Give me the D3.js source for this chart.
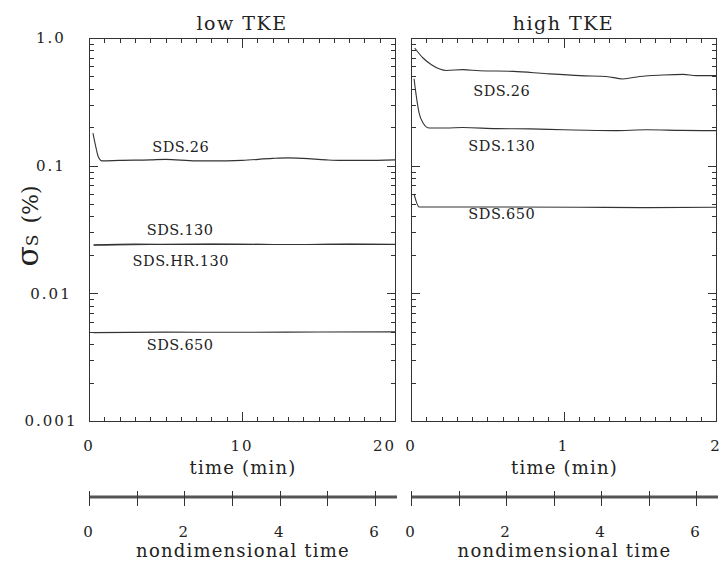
<!DOCTYPE html>
<html><head><meta charset="utf-8">
<script src="https://cdn.jsdelivr.net/npm/d3@7"></script>
<style>
body{margin:0;background:#fff}
svg{display:block}
text{font-family:"DejaVu Serif","Liberation Serif",serif;fill:#222}
</style>
</head><body>
<svg id="c" width="721" height="561"></svg>
<script>
// ---------------- data ----------------
const panelTitles = ["low TKE", "high TKE"];
const timeMax = [20, 2];
const timeMajorTicks = [[0, 10, 20], [0, 1, 2]];
const timeTickLabels = [["0", "10", "20"], ["0", "1", "2"]];
const timeMinorTicks = [d3.range(0, 21, 1), d3.range(0, 21, 1).map(d => d / 10)];
const nondimMax = 6.42;
const nondimTicks = [0, 1, 2, 3, 4, 5, 6];
const nondimLabels = [0, 2, 4, 6];
const yDecades = [0.001, 0.01, 0.1, 1];
const yDecadeLabels = ["0.001", "0.01", "0.1", "1.0"];

// low TKE (time in minutes, sigma_s in %)
const low_SDS26 = [[0.26,0.180],[0.42,0.145],[0.6,0.118],[0.85,0.109],[2,0.110],[4,0.111],[5,0.112],[7,0.109],[8,0.109],[10,0.110],[12,0.114],[13,0.115],[14,0.114],[15.5,0.111],[16.5,0.110],[18,0.110],[20,0.111]];
const low_SDS130 = [[0.3,0.0240],[3,0.0243],[6,0.0242],[10,0.0242],[14,0.0241],[17,0.0243],[20,0.0242]];
const low_SDSHR130 = [[0.3,0.0238],[4,0.0241],[8,0.0243],[12,0.0241],[16,0.0242],[20,0.0241]];
const low_SDS650 = [[0.3,0.00492],[5,0.00497],[10,0.00495],[15,0.00498],[20,0.00499]];

// high TKE
const high_SDS26 = [[0.024,0.835],[0.079,0.697],[0.134,0.618],[0.188,0.572],[0.232,0.557],[0.34,0.565],[0.45,0.554],[0.67,0.548],[0.89,0.525],[1.11,0.507],[1.28,0.500],[1.39,0.478],[1.50,0.500],[1.65,0.513],[1.785,0.519],[1.87,0.507],[2.0,0.507]];
const high_SDS130 = [[0.02,0.480],[0.035,0.349],[0.053,0.259],[0.079,0.216],[0.12,0.197],[0.23,0.197],[0.34,0.199],[0.56,0.195],[0.78,0.194],[1.0,0.191],[1.33,0.188],[1.55,0.191],[1.77,0.189],[2.0,0.188]];
const high_SDS650 = [[0.02,0.0600],[0.053,0.0475],[0.45,0.0475],[1.11,0.0473],[1.55,0.0469],[2.0,0.0472]];

const seriesNames = [["SDS.26","SDS.130","SDS.HR.130","SDS.650"],["SDS.26","SDS.130","SDS.650"]];
const seriesData = [[low_SDS26, low_SDS130, low_SDSHR130, low_SDS650],[high_SDS26, high_SDS130, high_SDS650]];
const labelTime = [[6, 5.96, 6, 5.96], [0.595, 0.595, 0.595]];
const labelDy = [[-8.5, -9.3, 21.4, 17.7], [25, 22, 12]];

// ---------------- layout ----------------
const panelX = [[89, 395], [411, 716]];
const plotTop = 38, plotBottom = 421;
const svg = d3.select("#c");
const ink = "#333";

const y = d3.scaleLog().domain([0.001, 1]).range([plotBottom, plotTop]);
const minorY = [];
yDecades.slice(0, 3).forEach(d => { for (let k = 2; k <= 9; k++) minorY.push(d * k); });

const snap = v => Math.round(v) + 0.5;

// tick marks drawn as path segments built from the scales
function yTickPath(xEdge, dir, vals, len) {
  return vals.map(d => `M${xEdge},${snap(y(d))}h${dir * len}`).join("");
}
function xTickPath(scale, yEdge, dir, vals, len) {
  return vals.map(d => `M${snap(scale(d))},${yEdge}v${dir * len}`).join("");
}

const defs = svg.append("defs");

panelX.forEach(([x0, x1], i) => {
  const x = d3.scaleLinear().domain([0, timeMax[i]]).range([x0, x1]);

  defs.append("clipPath").attr("id", "clip" + i).append("rect")
    .attr("x", x0).attr("y", plotTop).attr("width", x1 - x0).attr("height", plotBottom - plotTop);

  const minorX = timeMinorTicks[i].filter(t => !timeMajorTicks[i].some(m => Math.abs(m - t) < 1e-9));
  const tickD =
    yTickPath(x0, 1, minorY, 5) + yTickPath(x0, 1, yDecades, 9) +
    yTickPath(x1 + 1, -1, minorY, 5) + yTickPath(x1 + 1, -1, yDecades, 9) +
    xTickPath(x, plotBottom + 1, -1, minorX, 5) + xTickPath(x, plotBottom + 1, -1, timeMajorTicks[i], 10) +
    xTickPath(x, plotTop, 1, minorX, 5) + xTickPath(x, plotTop, 1, timeMajorTicks[i], 10);
  svg.append("path").attr("d", tickD).attr("fill", "none")
    .attr("stroke", ink).attr("stroke-width", 1);

  // frame
  svg.append("rect").attr("x", x0 + 0.5).attr("y", plotTop + 0.5)
    .attr("width", x1 - x0).attr("height", plotBottom - plotTop)
    .attr("fill", "none").attr("stroke", ink).attr("stroke-width", 1);

  // title
  svg.append("text").attr("x", (x0 + x1) / 2).attr("y", 30)
    .attr("text-anchor", "middle").attr("font-size", 19).attr("letter-spacing", 1.5)
    .text(panelTitles[i]);

  // time tick labels
  timeMajorTicks[i].forEach((t, k) => {
    let anchor = "middle", xp = x(t);
    if (i === 0 && k === 2) { anchor = "end"; xp = x1 + 1; }
    svg.append("text").attr("x", xp).attr("y", 450.5)
      .attr("text-anchor", anchor).attr("font-size", 15).attr("letter-spacing", 2)
      .text(timeTickLabels[i][k]);
  });
  svg.append("text").attr("x", (x0 + x1) / 2 + 1).attr("y", 474)
    .attr("text-anchor", "middle").attr("font-size", 18).attr("letter-spacing", 1.2)
    .text("time (min)");

  // curves
  const line = d3.line().x(d => x(d[0])).y(d => y(d[1])).curve(d3.curveMonotoneX);
  const cg = svg.append("g").attr("clip-path", `url(#clip${i})`);
  const bis = d3.bisector(d => d[0]).left;
  seriesData[i].forEach((data, s) => {
    cg.append("path").datum(data).attr("d", line)
      .attr("fill", "none").attr("stroke", "#333").attr("stroke-width", 1.1);
    const t = labelTime[i][s];
    const j = Math.max(1, Math.min(data.length - 1, bis(data, t)));
    const a = data[j - 1], b = data[j];
    const v = a[1] + (b[1] - a[1]) * (t - a[0]) / (b[0] - a[0]);
    svg.append("text").attr("x", x(t)).attr("y", y(v) + labelDy[i][s])
      .attr("text-anchor", "middle").attr("font-size", 14.5).attr("letter-spacing", 0.5)
      .text(seriesNames[i][s]);
  });

  // nondimensional axis
  const n = d3.scaleLinear().domain([0, nondimMax]).range([x0, x1]);
  svg.append("path").attr("d", `M${x0},497H${x1 + 2}`)
    .attr("stroke", "#555").attr("stroke-width", 3).attr("fill", "none");
  svg.append("path").attr("d", xTickPath(n, 491, 1, nondimTicks, 15))
    .attr("stroke", ink).attr("stroke-width", 1).attr("fill", "none");
  nondimLabels.forEach(v => {
    svg.append("text").attr("x", n(v)).attr("y", 536.5)
      .attr("text-anchor", "middle").attr("font-size", 15).attr("letter-spacing", 2)
      .text(v);
  });
  svg.append("text").attr("x", (x0 + x1) / 2 + 1).attr("y", 557)
    .attr("text-anchor", "middle").attr("font-size", 18).attr("letter-spacing", 1.2)
    .text("nondimensional time");
});

// y tick labels
yDecades.forEach((d, k) => {
  svg.append("text").attr("x", 51).attr("y", y(d)).attr("dy", "0.36em")
    .attr("text-anchor", "middle").attr("font-size", 15).attr("letter-spacing", 2)
    .text(yDecadeLabels[k]);
});

// y axis title
const yt = svg.append("text").attr("transform", "translate(38,226) rotate(-90)")
  .attr("text-anchor", "middle");
yt.append("tspan").attr("font-size", 30).text("σ");
yt.append("tspan").attr("font-size", 17).text("S");
yt.append("tspan").attr("font-size", 22).attr("dx", 4).text(" (%)");
</script>
</body></html>
